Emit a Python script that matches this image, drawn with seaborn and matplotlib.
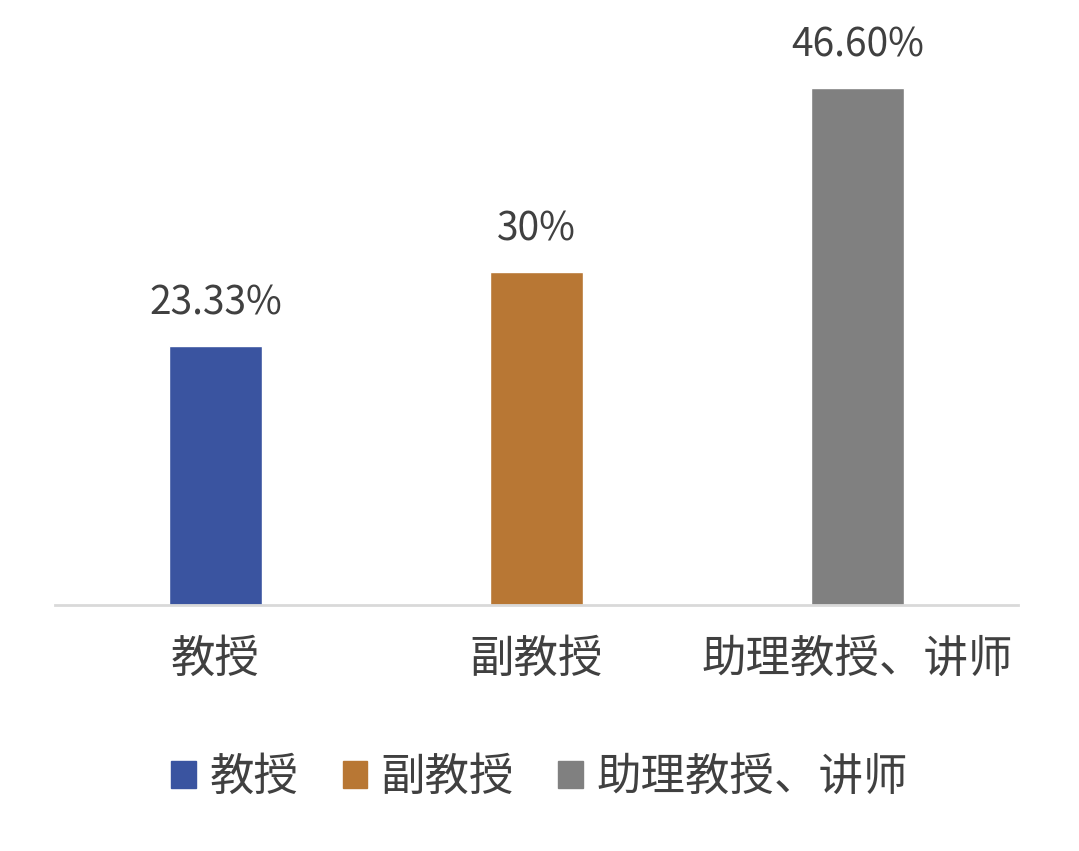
import matplotlib
matplotlib.use("Agg")
import matplotlib.pyplot as plt
import seaborn as sns
import pandas as pd

categories = ["教授", "副教授", "助理教授、讲师"]
values = [23.33, 30, 46.60]
value_labels = ["23.33%", "30%", "46.60%"]
colors = ["#3A54A0", "#B87734", "#808080"]

sns.set_theme(style="white")
plt.rcParams['font.family'] = ['Noto Sans CJK SC', 'DejaVu Sans']

df = pd.DataFrame({"cat": categories, "val": values})

fig = plt.figure(figsize=(10.79, 8.51), dpi=100)
ax = fig.add_axes([55 / 1079, 246 / 851, 963 / 1079, 605 / 851])
sns.barplot(data=df, x="cat", y="val", hue="cat", palette=colors, saturation=1,
            width=0.29, dodge=False, legend=False, ax=ax)

for i, (v, lab) in enumerate(zip(values, value_labels)):
    ax.text(i, v + 2.0, lab, ha="center", va="bottom", fontsize=28, color="#404040")

ax.set_xlim(-0.5, 2.5)
ax.set_ylim(0, 54.5)
ax.set_xlabel("")
ax.set_ylabel("")
ax.set_yticks([])
for s in ["top", "right", "left"]:
    ax.spines[s].set_visible(False)
ax.spines["bottom"].set_color("#D9D9D9")
ax.spines["bottom"].set_linewidth(2)
ax.tick_params(axis="x", length=0, labelsize=32, labelcolor="#404040", pad=22)

handles = [plt.Rectangle((0, 0), 1, 1, color=c) for c in colors]
fig.legend(handles, categories, loc="center", bbox_to_anchor=(0.5, 1 - 777 / 851),
           ncol=3, frameon=False, fontsize=32, handlelength=0.55, handleheight=0.55,
           columnspacing=1.0, handletextpad=0.3, labelcolor="#404040")

fig.savefig("out.png", dpi=100)
